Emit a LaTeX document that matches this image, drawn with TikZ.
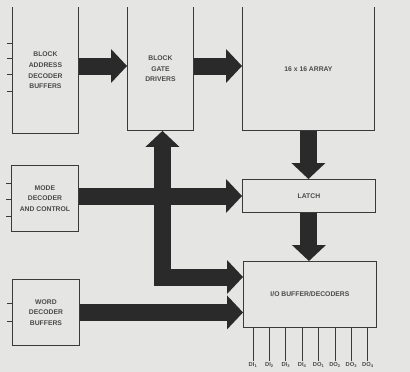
\documentclass[tikz,border=0pt]{standalone}
\usepackage{fontspec}
\setmainfont{Liberation Sans}
\usepackage{xcolor}
\usetikzlibrary{arrows.meta,calc}
\definecolor{paper}{HTML}{E5E5E3}
\definecolor{ink}{HTML}{3A3A3A}
\definecolor{bus}{HTML}{2A2A2A}
\definecolor{lettering}{HTML}{4A4A4A}
\tikzset{
  unitbox/.style={
    rectangle, draw=ink, fill=paper, line width=0.9pt,
    font=\fontsize{6.8}{10.7}\selectfont\bfseries, text=lettering,
    align=center, inner sep=0pt, anchor=north west
  },
  opentop/.style={
    rectangle, fill=paper, line width=0.9pt,
    font=\fontsize{6.8}{10.7}\selectfont\bfseries, text=lettering,
    align=center, inner sep=0pt, anchor=north west
  },
  sideline/.style={draw=ink, line width=0.9pt},
  fatarrow/.style={
    -{Triangle[length=16pt,width=34pt,line width=0pt]},
    line width=17pt, color=bus
  },
  tickline/.style={draw=ink, line width=0.7pt},
  pinline/.style={draw=ink, line width=0.9pt},
  pinlabel/.style={font=\fontsize{5.8}{6}\selectfont\bfseries, text=lettering,
    inner sep=1.5pt}
}
\begin{document}
\begin{tikzpicture}[x=1pt,y=-1pt]
  \fill[paper] (0,0) rectangle (410,372);
  \useasboundingbox (0,0) rectangle (410,372);
  % top row, cut off at the upper edge
  \node[opentop, minimum width=66pt, minimum height=126pt] (addr) at (12,7)
    {BLOCK\\ADDRESS\\DECODER\\BUFFERS};
  \node[opentop, minimum width=66pt, minimum height=123pt] (gate) at (127,7)
    {BLOCK\\GATE\\DRIVERS};
  \node[opentop, minimum width=132pt, minimum height=123pt] (array) at (242,7)
    {16 x 16 ARRAY};
  \draw[sideline] (addr.north west) -- (addr.south west) -- (addr.south east) -- (addr.north east);
  \draw[sideline] (gate.north west) -- (gate.south west) -- (gate.south east) -- (gate.north east);
  \draw[sideline] (array.north west) -- (array.south west) -- (array.south east) -- (array.north east);
  % lower blocks
  \node[unitbox, minimum width=67pt, minimum height=66pt] (mode) at (11,165)
    {MODE\\DECODER\\AND CONTROL};
  \node[unitbox, minimum width=133pt, minimum height=33pt] (latch) at (242,179) {LATCH};
  \node[unitbox, minimum width=67pt, minimum height=66pt] (word) at (12,279)
    {WORD\\DECODER\\BUFFERS};
  \node[unitbox, minimum width=133pt, minimum height=66pt] (io) at (243,261)
    {I/O BUFFER/DECODERS};
  \coordinate (row1) at (0,66);
  \coordinate (row2) at (0,196);
  \coordinate (busrow) at (0,277);
  % fat arrows
  \draw[fatarrow] (addr.east |- row1) -- (gate.west |- row1);
  \draw[fatarrow] (gate.east |- row1) -- (array.west |- row1);
  \draw[fatarrow] (array.south) -- (array.south |- latch.north);
  \draw[fatarrow] (latch.south) -- (latch.south |- io.north);
  \draw[fatarrow, {Triangle[length=16pt,width=34pt,line width=0pt]}-{Triangle[length=16pt,width=34pt,line width=0pt]}]
    (io.west |- busrow) -| ([xshift=2pt]gate.south);
  \draw[fatarrow] (mode.east |- row2) -- (latch.west |- row2);
  \draw[fatarrow] (word.east) -- (io.west |- word.east);
  % input ticks
  \foreach \dy in {27,12,-4,-21}
    \draw[tickline] ([yshift=\dy pt]addr.west) -- ++(-5,0);
  \foreach \dy in {15,-1,-18}
    \draw[tickline] ([yshift=\dy pt]mode.west) -- ++(-5,0);
  \foreach \dy in {9,-9}
    \draw[tickline] ([yshift=\dy pt]word.west) -- ++(-5,0);
  % data pins
  \foreach \n/\kind/\idx in {0/DI/1,1/DI/2,2/DI/3,3/DI/4,4/DO/1,5/DO/2,6/DO/3,7/DO/4}
    \draw[pinline] ([xshift={10pt+\n*16.4pt}]io.south west) -- ++(0,33)
      node[below, pinlabel] {\kind\textsubscript{\idx}};
\end{tikzpicture}
\end{document}
